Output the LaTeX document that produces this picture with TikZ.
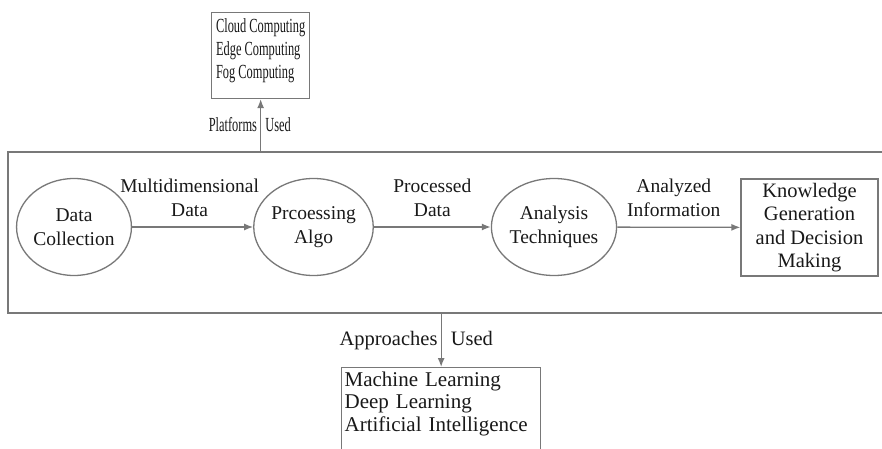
\documentclass[tikz,border=0pt]{standalone}
\usepackage{fontspec}
\setmainfont{Liberation Serif}
\newfontfamily\condfont[FakeStretch=0.62]{Liberation Serif}
\usetikzlibrary{arrows.meta,shapes.geometric}
\definecolor{linegray}{RGB}{120,120,120}
\definecolor{textdark}{RGB}{25,25,25}
\begin{document}
\begin{tikzpicture}[x=1pt,y=-1pt,
  line/.style={draw=linegray, line width=1.3pt},
  arr/.style={line, -{Latex[length=9pt,width=7pt]}},
  midfont/.style={font=\fontsize{19.5}{23.5}\selectfont, text=textdark},
  ell/.style={ellipse, line, midfont, align=center, inner sep=0pt, minimum width=104, minimum height=97},
  kbox/.style={rectangle, line, font=\fontsize{20.5}{23.3}\selectfont, text=textdark, align=center, inner sep=0pt, minimum width=137, minimum height=97},
  listbox/.style={rectangle, line, align=left, anchor=north west, text=textdark},
  flowlabel/.style={midfont, align=center, anchor=south, inner sep=0pt, yshift=10pt},
  sidelabel/.style={inner sep=0pt, text=textdark}
]
\clip (0,0) rectangle (882,449);
\fill[white] (0,0) rectangle (882,449);

% outer frame (right side runs off the picture)
\draw[line] (890,152) -- (8,152) -- (8,313) -- (890,313);

% platforms box
\node[listbox, font=\condfont\fontsize{20}{23}\selectfont, minimum width=98, inner xsep=2, inner ysep=6] (cloud) at (211,12)
  {Cloud Computing\\Edge Computing\\Fog Computing\\[-9pt]\mbox{}};

% approaches box
\node[listbox, font=\fontsize{21}{22.5}\selectfont, text width=193, inner xsep=3, inner ysep=4] (ml) at (341,367)
  {Machine Learning\\Deep Learning\\Artificial Intelligence\\[30pt]\mbox{}};

\coordinate (ftop) at (cloud.south |- 0,152);
\coordinate (fbot) at (ml.north |- 0,313);

% process nodes
\node[ell] (dc) at (74,227) {Data\\Collection};
\node[ell, minimum width=105] (pa) at (313.5,227) {Prcoessing\\Algo};
\node[ell, minimum width=112] (at) at (554,227) {Analysis\\Techniques};
\node[kbox] (kg) at (809.5,227.5) {Knowledge\\Generation\\and Decision\\Making};

% flow arrows
\draw[arr] (dc) -- node[flowlabel, xshift=-3pt] {Multidimensional\\Data} (pa);
\draw[arr] (pa) -- node[flowlabel] {Processed\\Data} (at);
\draw[arr] (at) -- node[flowlabel, xshift=-5pt] {Analyzed\\Information} (kg);

% vertical arrows
\draw[arr] (ftop) -- node[sidelabel, anchor=base east, xshift=-3pt, yshift=-6pt, font=\condfont\fontsize{20}{23}\selectfont] {Platforms}
                     node[sidelabel, anchor=base west, xshift=4pt, yshift=-6pt, font=\condfont\fontsize{20}{23}\selectfont] {Used} (cloud.south);
\draw[arr] (fbot) -- node[sidelabel, anchor=base east, xshift=-3pt, yshift=-5pt, font=\fontsize{20.5}{22.5}\selectfont] {Approaches}
                     node[sidelabel, anchor=base west, xshift=9pt, yshift=-5pt, font=\fontsize{20.5}{22.5}\selectfont] {Used} (ml.north);
\end{tikzpicture}
\end{document}
